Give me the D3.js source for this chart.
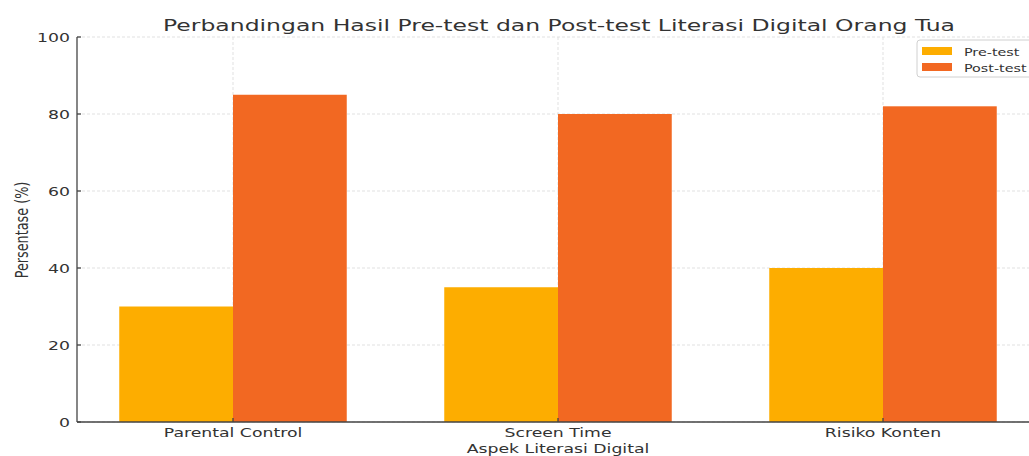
<!DOCTYPE html>
<html>
<head>
<meta charset="utf-8">
<script src="https://cdn.jsdelivr.net/npm/d3@7"></script>
<style>
    body { margin: 0; background: #fff; }
    text { font-family: "DejaVu Sans", sans-serif; fill: #333; }
</style>
</head>
<body>
<svg id="chart" width="1029" height="456"></svg>
<script>
"use strict";

var categories = ["Parental Control", "Screen Time", "Risiko Konten"],
    series = ["Pre-test", "Post-test"],
    preTest = [30, 35, 40],
    postTest = [85, 80, 82],
    yTicks = [0, 20, 40, 60, 80, 100];

var colors = {"Pre-test": "#fdad00", "Post-test": "#f26822"},
    sx = 1.35,   //source image was stretched horizontally
    fs = 12.8,
    svg = d3.select("#chart"),
    plot = {left: 77, right: 1039, top: 37, bottom: 422};

var x = d3.scaleBand().domain(categories)
        .range([70.5, 1045.5]).paddingInner(0.3).paddingOuter(0.15),
    xs = d3.scaleBand().domain(series).range([0, x.bandwidth()]),
    y = d3.scaleLinear().domain([0, 100]).range([plot.bottom, plot.top]);

function stretchText(g, tx, ty, txt, size, anchor) {
    return g.append("text")
        .attr("transform", "translate(" + tx + "," + ty + ") scale(" + sx + ",1)")
        .attr("text-anchor", anchor || "middle")
        .attr("font-size", size)
        .text(txt);
}

//grid
var grid = svg.append("g").attr("stroke", "#d9d9d9")
    .attr("stroke-dasharray", "3,2").attr("stroke-width", 0.8);
yTicks.forEach(function (t) {
    grid.append("line").attr("x1", plot.left).attr("x2", 1029)
        .attr("y1", y(t)).attr("y2", y(t)); });
categories.forEach(function (c) {
    var cx = x(c) + x.bandwidth() / 2;
    grid.append("line").attr("x1", cx).attr("x2", cx)
        .attr("y1", plot.top).attr("y2", plot.bottom); });

//bars
var rows = categories.map(function (c, i) {
    return {cat: c, vals: [{s: "Pre-test", v: preTest[i]},
                           {s: "Post-test", v: postTest[i]}]}; });
svg.append("g").selectAll("g").data(rows).join("g")
    .attr("transform", function (d) { return "translate(" + x(d.cat) + ",0)"; })
    .selectAll("rect").data(function (d) { return d.vals; }).join("rect")
    .attr("x", function (d) { return xs(d.s); })
    .attr("width", xs.bandwidth())
    .attr("y", function (d) { return y(d.v); })
    .attr("height", function (d) { return y(0) - y(d.v); })
    .attr("fill", function (d) { return colors[d.s]; });

//spines and ticks
var ax = svg.append("g").attr("stroke", "#444").attr("stroke-width", 1.3);
ax.append("line").attr("x1", plot.left).attr("x2", plot.left)
    .attr("y1", plot.top).attr("y2", plot.bottom);
ax.append("line").attr("x1", plot.left).attr("x2", 1029)
    .attr("y1", plot.bottom).attr("y2", plot.bottom);
yTicks.forEach(function (t) {
    ax.append("line").attr("x1", plot.left).attr("x2", plot.left + 4)
        .attr("y1", y(t)).attr("y2", y(t)); });
categories.forEach(function (c) {
    var cx = x(c) + x.bandwidth() / 2;
    ax.append("line").attr("x1", cx).attr("x2", cx)
        .attr("y1", plot.bottom).attr("y2", plot.bottom - 4); });

//labels
var lab = svg.append("g");
yTicks.forEach(function (t) {
    stretchText(lab, 70, y(t) + 4.6, t, fs, "end"); });
categories.forEach(function (c) {
    stretchText(lab, x(c) + x.bandwidth() / 2, 437, c, fs); });
stretchText(lab, 558, 453, "Aspek Literasi Digital", fs);
lab.append("text")
    .attr("transform", "translate(28,230) scale(" + sx + ",1) rotate(-90)")
    .attr("text-anchor", "middle").attr("font-size", fs)
    .text("Persentase (%)");
lab.append("text")
    .attr("x", 559).attr("y", 31).attr("text-anchor", "middle")
    .attr("font-size", 15.8)
    .attr("textLength", 792).attr("lengthAdjust", "spacingAndGlyphs")
    .text("Perbandingan Hasil Pre-test dan Post-test Literasi Digital Orang Tua");

//legend
var lg = svg.append("g");
lg.append("rect").attr("x", 917).attr("y", 40).attr("width", 130)
    .attr("height", 37).attr("rx", 3)
    .attr("fill", "#fff").attr("fill-opacity", 0.85)
    .attr("stroke", "#d0d0d0");
series.forEach(function (s, i) {
    lg.append("rect").attr("x", 922).attr("y", 47 + i * 16)
        .attr("width", 30).attr("height", 8).attr("fill", colors[s]);
    stretchText(lg, 964, 55.5 + i * 16, s, 10.6, "start");
});
</script>
</body>
</html>
